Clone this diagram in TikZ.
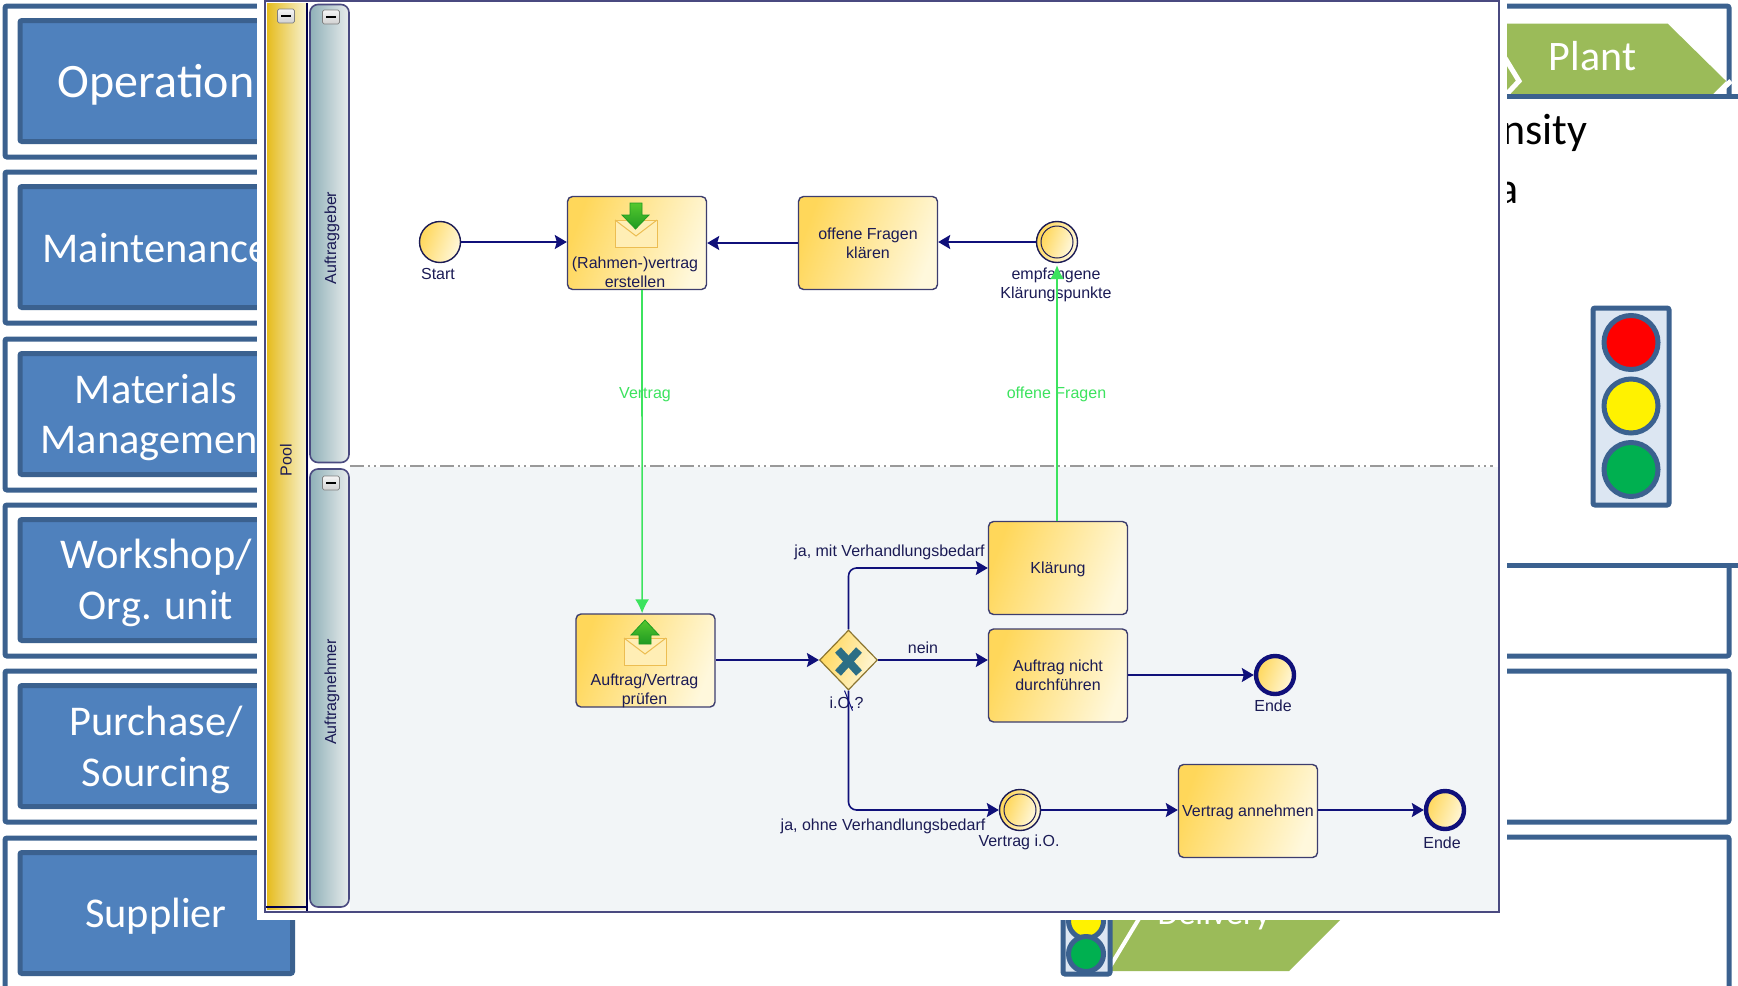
\documentclass[tikz,border=0pt]{standalone}
\usepackage{fontspec}
\setmainfont{Carlito}
\newfontfamily\bpmnfont{Liberation Sans}
\usetikzlibrary{arrows.meta,shapes.geometric,calc}
\definecolor{frameblue}{HTML}{3B618F}
\definecolor{boxblue}{HTML}{4F81BD}
\definecolor{leaf}{HTML}{9BBB59}
\definecolor{lightblue}{HTML}{DCE6F2}
\definecolor{navy}{HTML}{10107A}
\definecolor{ink}{HTML}{1B1B55}
\definecolor{panelline}{HTML}{4A4A80}
\definecolor{msg}{HTML}{3CE35E}
\definecolor{gold}{HTML}{FFD75A}
\definecolor{cream}{HTML}{FFF8DC}
\definecolor{lane}{HTML}{F2F5F7}
\definecolor{poolgold}{HTML}{E6BC1E}
\definecolor{poolcream}{HTML}{F7F2D2}
\definecolor{laneL}{HTML}{8FB0B8}
\definecolor{laneM}{HTML}{B4C0E0}
\definecolor{laneR}{HTML}{E8ECEC}
\definecolor{gatex}{HTML}{2C6E85}
\definecolor{arrowlight}{HTML}{55C82E}
\definecolor{arrowdark}{HTML}{1F9A22}
\definecolor{lampgreen}{HTML}{00B050}
\tikzset{
  outerframe/.style={draw=frameblue,line width=2.5pt,rounded corners=1pt},
  bluebox/.style={draw=frameblue,fill=boxblue,line width=2.5pt,rounded corners=1pt,minimum width=136.25pt,minimum height=60.5pt,inner sep=0pt},
  bluetext/.style={text=white,font=\fontsize{21.2}{25}\selectfont,anchor=base,inner sep=0pt},
  lamp/.style={circle,draw=frameblue,line width=2.5pt,minimum size=27pt,inner sep=0pt},
  gold shade/.style={left color=gold,right color=cream,shading angle=70},
  task/.style={draw=ink!85,line width=.7pt,rounded corners=2.5pt,gold shade,minimum width=69.5pt,minimum height=46.5pt,inner sep=0pt},
  bpmntext/.style={text=ink,font=\bpmnfont\fontsize{8}{9.5}\selectfont,align=center,inner sep=0pt},
  msgtext/.style={text=msg,font=\bpmnfont\fontsize{8}{9.5}\selectfont,align=center,inner sep=0pt},
  event/.style={circle,draw=ink,line width=.7pt,gold shade,minimum size=20.5pt,inner sep=0pt},
  endevent/.style={circle,draw=navy,line width=2.2pt,gold shade,minimum size=19pt,inner sep=0pt},
  flow/.style={draw=navy,line width=.8pt,-{Stealth[length=6pt,width=7pt,inset=1pt]},rounded corners=4pt},
  message/.style={draw=msg,line width=.8pt,-{Latex[length=7pt,width=7pt]}},
  collapse/.style={draw=gray,top color=black!4,bottom color=black!18,rounded corners=.8pt,line width=.3pt,minimum width=8.5pt,minimum height=7pt,inner sep=0pt},
  bar/.style={draw=black,line width=.8pt},
  envelope/.style={draw=gold!70!brown,line width=.5pt,fill=cream!70!gold},
  greenarrow/.style={draw=arrowdark,line width=.4pt,top color=arrowlight,bottom color=arrowdark},
  lanehead/.style={draw=panelline,line width=.8pt,rounded corners=4pt,left color=laneL,middle color=laneM,right color=laneR,minimum width=19.5pt,inner sep=0pt},
}
\newcommand{\tasktext}[1]{\raisebox{-1pt}[\height][\depth]{\textcolor{ink}{\bpmnfont\fontsize{8}{9.5}\selectfont\begin{tabular}{@{}c@{}}#1\end{tabular}}}}
\begin{document}
\begin{tikzpicture}[x=.5pt,y=-.5pt]
\useasboundingbox (0,0) rectangle (1738,985);
\clip (0,0) rectangle (1738,985);
\fill[white] (0,0) rectangle (1738,985);
% left frames
\foreach \t/\b in {6/157,172/323,339/490,505/656,671/822}{
  \draw[outerframe] (600,\t) -- (5,\t) -- (5,\b) -- (600,\b);
}
\draw[outerframe] (600,838) -- (5,838) -- (5,1000);
% left boxes
\node[bluebox] (b1) at (156.25,81) {};
\node[bluebox] (b2) at (156.25,247) {};
\node[bluebox] (b3) at (156.25,414) {};
\node[bluebox] (b4) at (156.25,580) {};
\node[bluebox] (b5) at (156.25,746) {};
\node[bluebox] (b6) at (156.25,913) {};
\node[bluetext,font=\fontsize{24}{26}\selectfont] (t1) at (156,97) {Operation};
\node[bluetext] (t2) at (156,262) {Maintenance};
\node[bluetext] (t3a) at (156,403) {Materials};
\node[bluetext] (t3b) at (156,453) {Management};
\node[bluetext] (t4a) at (156,568) {Workshop/};
\node[bluetext] (t4b) at (156,619) {Org. unit};
\node[bluetext] (t5a) at (156,735) {Purchase/};
\node[bluetext] (t5b) at (156,786) {Sourcing};
\node[bluetext] (t6) at (156,927) {Supplier};
% right frames
\fill[leaf] (1450,23.5) -- (1667.5,23.5) -- (1726,81) -- (1713,94) -- (1450,94) -- cycle;
\draw[white,line width=2.5pt] (1505,58) -- (1519,81) -- (1505,96);
\draw[outerframe] (1400,6) -- (1729,6) -- (1729,96);
\draw[white,line width=2.5pt] (1731,81) -- (1717,94);
\draw[draw=frameblue,line width=2.5pt] (1400,96.5) -- (1738,96.5);
\draw[draw=frameblue,line width=2.5pt] (1400,565) -- (1738,565);
\draw[outerframe] (1729,565) -- (1729,656) -- (1400,656);
\draw[outerframe] (1400,671) -- (1729,671) -- (1729,822) -- (1400,822);
\draw[outerframe] (1400,837) -- (1729,837) -- (1729,1000);
\node[text=white,font=\fontsize{21}{23}\selectfont,anchor=base,inner sep=0pt] (plant) at (1592.5,70) {Plant};
% black text
\node[text=black,font=\fontsize{22}{24}\selectfont,anchor=base east,inner sep=0pt] (dens) at (1588,144) {nsity};
\node[text=black,font=\fontsize{22}{24}\selectfont,anchor=base east,inner sep=0pt] (dta) at (1519,203) {a};
% traffic light
\draw[frameblue,fill=lightblue,line width=2.5pt,rounded corners=1pt] (1593,308) rectangle (1669,505);
\node[lamp,fill=red] (l1) at (1631,342.5) {};
\node[lamp,fill=yellow] (l2) at (1631,406) {};
\node[lamp,fill=lampgreen] (l3) at (1631,469.5) {};
% delivery
\fill[leaf] (1090,900) -- (1360,900) -- (1289,971) -- (1090,971) -- cycle;
\draw[white,line width=2pt] (1143,912) -- (1108,970);
\node[text=white,font=\fontsize{17}{19}\selectfont,anchor=base,inner sep=0pt] (deliv) at (1214,924) {Delivery};
\draw[frameblue,fill=lightblue,line width=2.5pt,rounded corners=1pt] (1063,880) rectangle (1110,974);
\node[circle,draw=frameblue,fill=yellow,line width=2.5pt,minimum size=17.5pt,inner sep=0pt] (s2) at (1086,921) {};
\node[circle,draw=frameblue,fill=lampgreen,line width=2.5pt,minimum size=17.5pt,inner sep=0pt] (s3) at (1086,954) {};
% panel
\fill[white] (257,0) rectangle (1507,920);
\fill[lane] (350,467) rectangle (1498,911);
\draw[black!40,line width=.7pt,dash pattern=on 7pt off 2pt on 1pt off 2pt on 1pt off 2pt] (350,466) -- (1493,466);
\draw[panelline,line width=1pt] (265,1) rectangle (1499,912);
\shade[left color=poolgold,right color=poolcream] (267,3) rectangle (307,909);
\draw[black!70!blue,line width=.8pt] (307,3) -- (307,911);
\draw[black!70!blue,line width=.8pt] (266,907) -- (307,907);
\node[collapse] (pc) at (286,16) {};
\draw[bar] (281,16) -- (291,16);
\node[bpmntext,rotate=90] (pool) at (286,460) {Pool};
\node[lanehead,minimum height=229pt] (laneA) at (329.5,233.5) {};
\node[lanehead,minimum height=219pt] (laneB) at (329.5,688) {};
\node[collapse] (ca) at (331,17) {};
\draw[bar] (326,17) -- (336,17);
\node[collapse] (cb) at (331,483) {};
\draw[bar] (326,483) -- (336,483);
\node[bpmntext,rotate=90] (tA) at (332,238) {Auftraggeber};
\node[bpmntext,rotate=90] (tB) at (332,692) {Auftragnehmer};
% nodes
\node[event] (start) at (440,242) {};
\node[task] (t1task) at (637,243) {};
\node[task] (t2task) at (868,243) {\tasktext{offene Fragen\\klären}};
\node[event] (recv) at (1057,242) {};
\node[circle,draw=ink,line width=.5pt,gold shade,minimum size=16pt,inner sep=0pt] (recvin) at (recv.center) {};
\node[task] (t3task) at (645.5,660.5) {};
\node[diamond,draw=black!45!gold,line width=.6pt,gold shade,minimum width=29pt,minimum height=30pt,inner sep=0pt] (gate) at (848.5,660) {};
\node[task] (klaer) at (1058,568) {\tasktext{Klärung}};
\node[task] (nicht) at (1058,675.5) {\tasktext{Auftrag nicht\\durchführen}};
\node[endevent] (end1) at (1275,675) {};
\node[event] (vio) at (1020,810) {};
\node[circle,draw=ink,line width=.5pt,gold shade,minimum size=16pt,inner sep=0pt] (vioin) at (vio.center) {};
\node[task] (annehmen) at (1248,811) {\tasktext{Vertrag annehmen}};
\node[endevent] (end2) at (1445,810) {};
% gateway X
\draw[gatex,line width=4pt] (838,650) -- (859,673) (859,650) -- (838,673);
% icons
\draw[envelope] (615,220) rectangle (657,247);
\draw[envelope,fill=none] (615,220) -- (636,236) -- (657,220);
\path[greenarrow] (630,203) -- (642,203) -- (642,215) -- (649,215) -- (635.5,229) -- (622,215) -- (630,215) -- cycle;
\draw[envelope] (624,638) rectangle (666,665);
\draw[envelope,fill=none] (624,638) -- (645,654) -- (666,638);
\path[greenarrow] (639,644) -- (651,644) -- (651,635) -- (659,635) -- (645,620) -- (631,635) -- (639,635) -- cycle;
% texts
\node[bpmntext] (lstart) at (438,274) {Start};
\node[bpmntext] (l1a) at (635,272.5) {(Rahmen-)vertrag\\erstellen};
\node[bpmntext] (lrecv) at (1056,284.5) {empfangene\\Klärungspunkte};
\node[msgtext] (lv) at (645,395) {Vertrag};
\node[msgtext] (lf) at (1056.5,394) {offene Fragen};
\node[bpmntext] (l3a) at (644.5,691) {Auftrag/Vertrag\\prüfen};
\node[bpmntext] (lgate) at (846.5,703) {i.O.?};
\node[bpmntext] (lja1) at (889.5,552) {ja, mit Verhandlungsbedarf};
\node[bpmntext] (lnein) at (923,648) {nein};
\node[bpmntext] (lja2) at (883,826) {ja, ohne Verhandlungsbedarf};
\node[bpmntext] (lvio) at (1019,842.5) {Vertrag i.O.};
\node[bpmntext] (le1) at (1273,706) {Ende};
\node[bpmntext] (le2) at (1442,842.5) {Ende};
% connectors
\draw[flow] (start) -- (t1task.west |- start);
\draw[flow] (t2task.west) -- (t1task.east);
\draw[flow] (recv) -- (t2task.east |- recv);
\draw[flow] (t3task.east |- gate) -- (gate.west);
\draw[flow] (gate.north) |- (klaer.west);
\draw[flow] (gate.east) -- (nicht.west |- gate);
\draw[flow] (gate.south) |- (vio.west);
\draw[flow] (nicht.east |- end1) -- (end1.west);
\draw[flow] (vio.east) -- (annehmen.west |- vio);
\draw[flow] (annehmen.east |- end2) -- (end2.west);
\draw[navy,line width=.5pt] ([shift={(-2pt,0pt)}]gate.south) -- ([shift={(2pt,-10pt)}]gate.south);
\draw[message] ([xshift=2.5pt]t1task.south) -- ([xshift=-1.7pt]t3task.north);
\draw[message] (klaer.north -| recv) -- ([yshift=-1pt]recv.south);
\end{tikzpicture}
\end{document}
